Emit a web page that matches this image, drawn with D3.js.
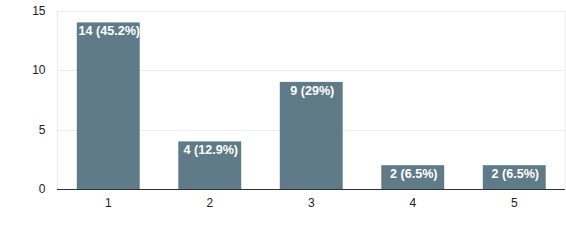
<!DOCTYPE html>
<html><head><meta charset="utf-8">
<script src="https://cdn.jsdelivr.net/npm/d3@7"></script>
<style>body{margin:0;background:#fff}svg{display:block}</style>
</head><body>
<svg id="c" width="566" height="240"></svg>
<script>
const categories = ["1","2","3","4","5"];
const values = [14, 4, 9, 2, 2];
const labels = ["14 (45.2%)","4 (12.9%)","9 (29%)","2 (6.5%)","2 (6.5%)"];
const yTicks = [0, 5, 10, 15];

const svg = d3.select("#c");
const L = 57.5, R = 565, T = 10.5, B = 189;
const x = d3.scaleBand().domain(categories).range([L, R]).paddingInner(0.38).paddingOuter(0.19);
const y = d3.scaleLinear().domain([0, 15]).range([B, T]);

// gridlines
svg.append("g").selectAll("line").data(yTicks.filter(d => d > 0)).join("line")
  .attr("x1", L).attr("x2", R).attr("y1", d => Math.round(y(d)) + 0.5).attr("y2", d => Math.round(y(d)) + 0.5)
  .attr("stroke", "#ebebeb");
// plot frame left/right
svg.append("line").attr("x1", L).attr("x2", L).attr("y1", T).attr("y2", B).attr("stroke", "#ebebeb");
svg.append("line").attr("x1", R).attr("x2", R).attr("y1", T).attr("y2", B).attr("stroke", "#ebebeb");

// y axis labels
const yAxis = d3.axisLeft(y).tickValues(yTicks).tickSize(0).tickPadding(12);
const ya = svg.append("g").attr("transform", `translate(${L},0)`).call(yAxis);
ya.select(".domain").remove();
ya.selectAll("text").attr("font-family", "Liberation Sans, Arial, sans-serif").attr("font-size", 12).attr("fill", "#222");

// bars
svg.append("g").selectAll("rect").data(values).join("rect")
  .attr("x", (d, i) => x(categories[i])).attr("width", x.bandwidth())
  .attr("y", d => y(d)).attr("height", d => B - y(d))
  .attr("fill", "#607b88");

// bar labels
svg.append("g").selectAll("text").data(values).join("text")
  .attr("x", (d, i) => x(categories[i]) + x.bandwidth() / 2 + 1)
  .attr("y", d => y(d) + 12.8)
  .attr("text-anchor", "middle")
  .attr("font-family", "Liberation Sans, Arial, sans-serif").attr("font-size", 12.6).attr("font-weight", "bold")
  .attr("fill", "#fff")
  .text((d, i) => labels[i]);

// x axis
const xAxis = d3.axisBottom(x).tickSize(0).tickPadding(9);
const xa = svg.append("g").attr("transform", `translate(0,${B})`).call(xAxis);
xa.select(".domain").remove();
xa.selectAll("text").attr("font-family", "Liberation Sans, Arial, sans-serif").attr("font-size", 12).attr("fill", "#222");
svg.append("line").attr("x1", L - 0.5).attr("x2", R).attr("y1", B + 0.5).attr("y2", B + 0.5).attr("stroke", "#333");
</script>
</body></html>
